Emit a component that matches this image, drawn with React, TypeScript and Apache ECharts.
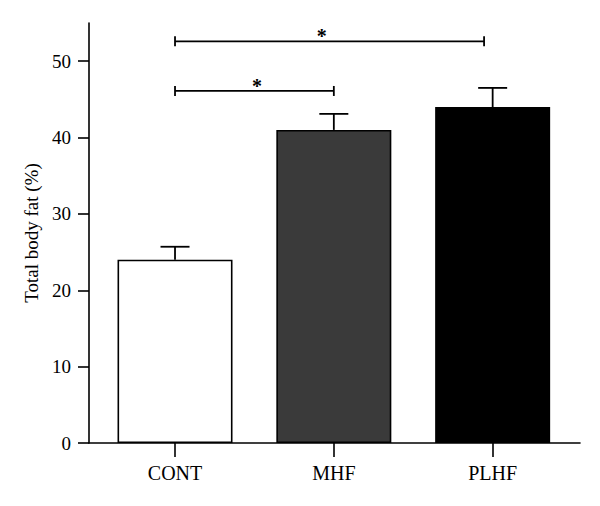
import React, { useEffect, useRef } from "react";
import * as echarts from "echarts";

const categories = ["CONT", "MHF", "PLHF"];
const means = [24, 41, 44];
const errTops = [25.7, 43.1, 46.5];
const barColors = ["#ffffff", "#3a3a3a", "#000000"];
const yTicks = [0, 10, 20, 30, 40, 50];
// significance brackets: [fromX, toX, yValue, starX]
const brackets = [
  [0, 1.946, 52.6, 0.924],
  [0, 1.0, 46.1, 0.516],
];

const FONT = "Liberation Serif";

export default function App() {
  const ref = useRef<HTMLDivElement>(null);
  useEffect(() => {
    if (!ref.current) return;
    const chart = echarts.init(ref.current, null, { renderer: "svg" });
    chart.setOption({
      animation: false,
      backgroundColor: "#ffffff",
      grid: { left: 89, right: 20, top: 23, bottom: 63 },
      xAxis: {
        type: "value",
        min: -0.5416,
        max: 2.55,
        splitLine: { show: false },
        axisLine: { show: true, onZero: false, lineStyle: { color: "#000", width: 1.6 } },
        axisTick: {
          show: true,
          customValues: [0, 1, 2],
          length: 14,
          lineStyle: { color: "#000", width: 1.6 },
        },
        axisLabel: {
          customValues: [0, 1, 2],
          formatter: (v: number) => categories[Math.round(v)],
          margin: 20,
          color: "#000",
          fontFamily: FONT,
          fontSize: 20,
        },
      },
      yAxis: {
        type: "value",
        min: 0,
        max: 55,
        name: "Total body fat (%)",
        nameLocation: "middle",
        nameGap: 47,
        nameRotate: 90,
        nameTextStyle: { color: "#000", fontFamily: FONT, fontSize: 19 },
        splitLine: { show: false },
        axisLine: { show: true, onZero: false, lineStyle: { color: "#000", width: 1.6 } },
        axisTick: {
          show: true,
          customValues: yTicks,
          length: 11,
          lineStyle: { color: "#000", width: 1.6 },
        },
        axisLabel: {
          customValues: yTicks,
          margin: 18,
          color: "#000",
          fontFamily: FONT,
          fontSize: 19,
        },
      },
      series: [
        {
          type: "bar",
          barWidth: 115,
          data: means.map((m, i) => ({
            value: [i, m],
            itemStyle: { color: barColors[i], borderColor: "#000", borderWidth: 1.6 },
          })),
          z: 2,
        },
        {
          type: "custom",
          z: 3,
          data: means.map((m, i) => [i, m, errTops[i]]),
          renderItem: (params: any, api: any) => {
            const x = api.value(0);
            const lo = api.coord([x, api.value(1)]);
            const hi = api.coord([x, api.value(2)]);
            const half = 14.5;
            const style = { stroke: "#000", lineWidth: 1.8 };
            return {
              type: "group",
              children: [
                { type: "line", shape: { x1: lo[0], y1: lo[1], x2: hi[0], y2: hi[1] }, style },
                { type: "line", shape: { x1: hi[0] - half, y1: hi[1], x2: hi[0] + half, y2: hi[1] }, style },
              ],
            };
          },
        },
        {
          type: "custom",
          z: 3,
          data: brackets,
          renderItem: (params: any, api: any) => {
            const y = api.value(2);
            const a = api.coord([api.value(0), y]);
            const b = api.coord([api.value(1), y]);
            const s = api.coord([api.value(3), y]);
            const style = { stroke: "#000", lineWidth: 1.8 };
            const h = 5;
            return {
              type: "group",
              children: [
                { type: "line", shape: { x1: a[0], y1: a[1], x2: b[0], y2: b[1] }, style },
                { type: "line", shape: { x1: a[0], y1: a[1] - h, x2: a[0], y2: a[1] + h }, style },
                { type: "line", shape: { x1: b[0], y1: b[1] - h, x2: b[0], y2: b[1] + h }, style },
                {
                  type: "text",
                  x: s[0],
                  y: s[1] + 5,
                  style: {
                    text: "*",
                    fill: "#000",
                    font: `bold 20px "${FONT}"`,
                    textAlign: "center",
                    textVerticalAlign: "bottom",
                  },
                },
              ],
            };
          },
        },
      ],
    });
    return () => chart.dispose();
  }, []);
  return <div ref={ref} style={{ width: 600, height: 506, position: "absolute", left: 0, top: 0 }} />;
}
